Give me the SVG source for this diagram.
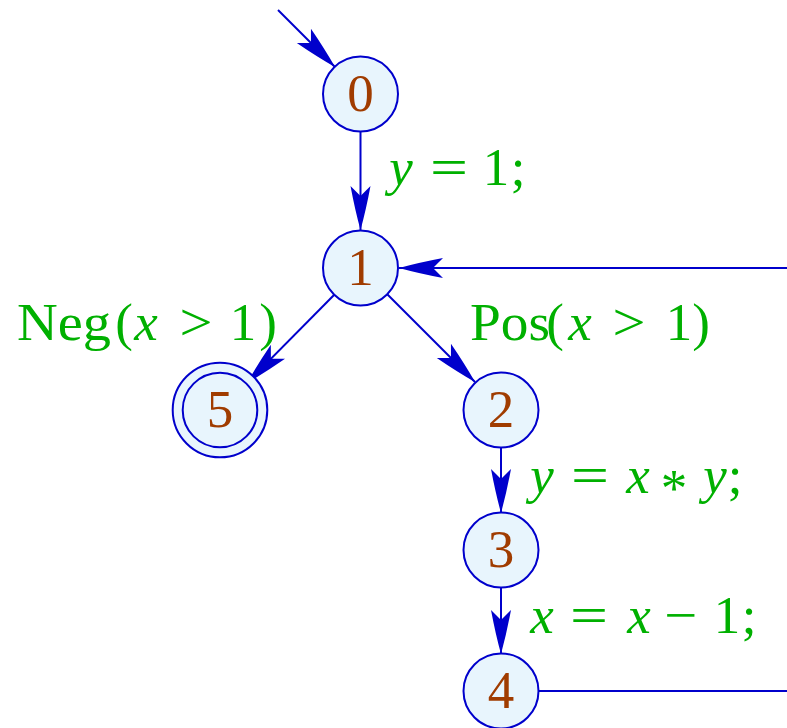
<svg xmlns="http://www.w3.org/2000/svg" width="787" height="728" viewBox="0 0 787 728">
<style>
.node circle{fill:#e8f5fd;stroke:#0000cc;stroke-width:2}
.node text{font-family:"Liberation Serif",serif;font-size:53px;fill:#a03c00;text-anchor:middle}
.edge{stroke:#0000cc;stroke-width:2;fill:none}
.lbl text{font-family:"Liberation Serif",serif;font-size:53px;fill:#00b000;text-anchor:middle}
.it{font-style:italic}
</style>
<defs>
<marker id="ah" viewBox="-46 -11 48 22" refX="0" refY="0" markerWidth="48" markerHeight="22" markerUnits="userSpaceOnUse" orient="auto">
<path d="M0,0 Q-20,-5.5 -44,-10 Q-37,-3 -34,0 Q-37,3 -44,10 Q-20,5.5 0,0 Z" fill="#0000cc"/>
</marker>
</defs>
<rect width="787" height="728" fill="#ffffff"/>
<g id="connectors">
<line class="edge" x1="278" y1="10" x2="335" y2="67" marker-end="url(#ah)"/>
<line class="edge" x1="360.5" y1="132" x2="360.5" y2="230" marker-end="url(#ah)"/>
<line class="edge" x1="787" y1="268" x2="399" y2="268" marker-end="url(#ah)"/>
<line class="edge" x1="335" y1="294" x2="247" y2="383" marker-end="url(#ah)"/>
<line class="edge" x1="387" y1="294" x2="475" y2="382" marker-end="url(#ah)"/>
<line class="edge" x1="501" y1="447" x2="501" y2="513" marker-end="url(#ah)"/>
<line class="edge" x1="501" y1="587" x2="501" y2="654" marker-end="url(#ah)"/>
<line class="edge" x1="539" y1="691" x2="787" y2="691"/>
</g>
<g id="node0" class="node"><circle cx="360.5" cy="94" r="37.5"/><text x="360.5" y="111">0</text></g>
<g id="node1" class="node"><circle cx="360.5" cy="268" r="37.5"/><text x="360.5" y="285">1</text></g>
<g id="node5" class="node"><circle cx="220" cy="410" r="47.3"/><circle cx="220" cy="410" r="37.3"/><text x="220" y="427">5</text></g>
<g id="node2" class="node"><circle cx="501" cy="410" r="37.5"/><text x="501" y="427">2</text></g>
<g id="node3" class="node"><circle cx="501" cy="550" r="37.5"/><text x="501" y="567">3</text></g>
<g id="node4" class="node"><circle cx="501" cy="691" r="37.5"/><text x="501" y="708">4</text></g>
<g id="labels" class="lbl">
<g id="lbl-y1"><text class="it" x="401" y="185">y</text><text x="449" y="185" textLength="38" lengthAdjust="spacingAndGlyphs">=</text><text x="496" y="185">1</text><text x="518" y="185">;</text></g>
<g id="lbl-neg"><text x="17" y="340" style="text-anchor:start" textLength="94" lengthAdjust="spacingAndGlyphs">Neg</text><text x="124" y="340">(</text><text class="it" x="146" y="340">x</text><text x="196" y="340" textLength="33" lengthAdjust="spacingAndGlyphs">&gt;</text><text x="243" y="340">1</text><text x="268" y="340">)</text></g>
<g id="lbl-pos"><text x="470" y="340" style="text-anchor:start" textLength="80" lengthAdjust="spacingAndGlyphs">Pos</text><text x="555" y="340">(</text><text class="it" x="580" y="340">x</text><text x="629" y="340" textLength="33" lengthAdjust="spacingAndGlyphs">&gt;</text><text x="679" y="340">1</text><text x="701" y="340">)</text></g>
<g id="lbl-yxy"><text class="it" x="542" y="493">y</text><text x="590" y="493" textLength="38" lengthAdjust="spacingAndGlyphs">=</text><text class="it" x="638" y="493">x</text><text x="674" y="506">*</text><text class="it" x="715" y="493">y</text><text x="735" y="493">;</text></g>
<g id="lbl-xx1"><text class="it" x="542" y="633">x</text><text x="589" y="633" textLength="38" lengthAdjust="spacingAndGlyphs">=</text><text class="it" x="639" y="633">x</text><text x="681" y="633" textLength="33" lengthAdjust="spacingAndGlyphs">−</text><text x="727" y="633">1</text><text x="749" y="633">;</text></g>
</g>
</svg>
